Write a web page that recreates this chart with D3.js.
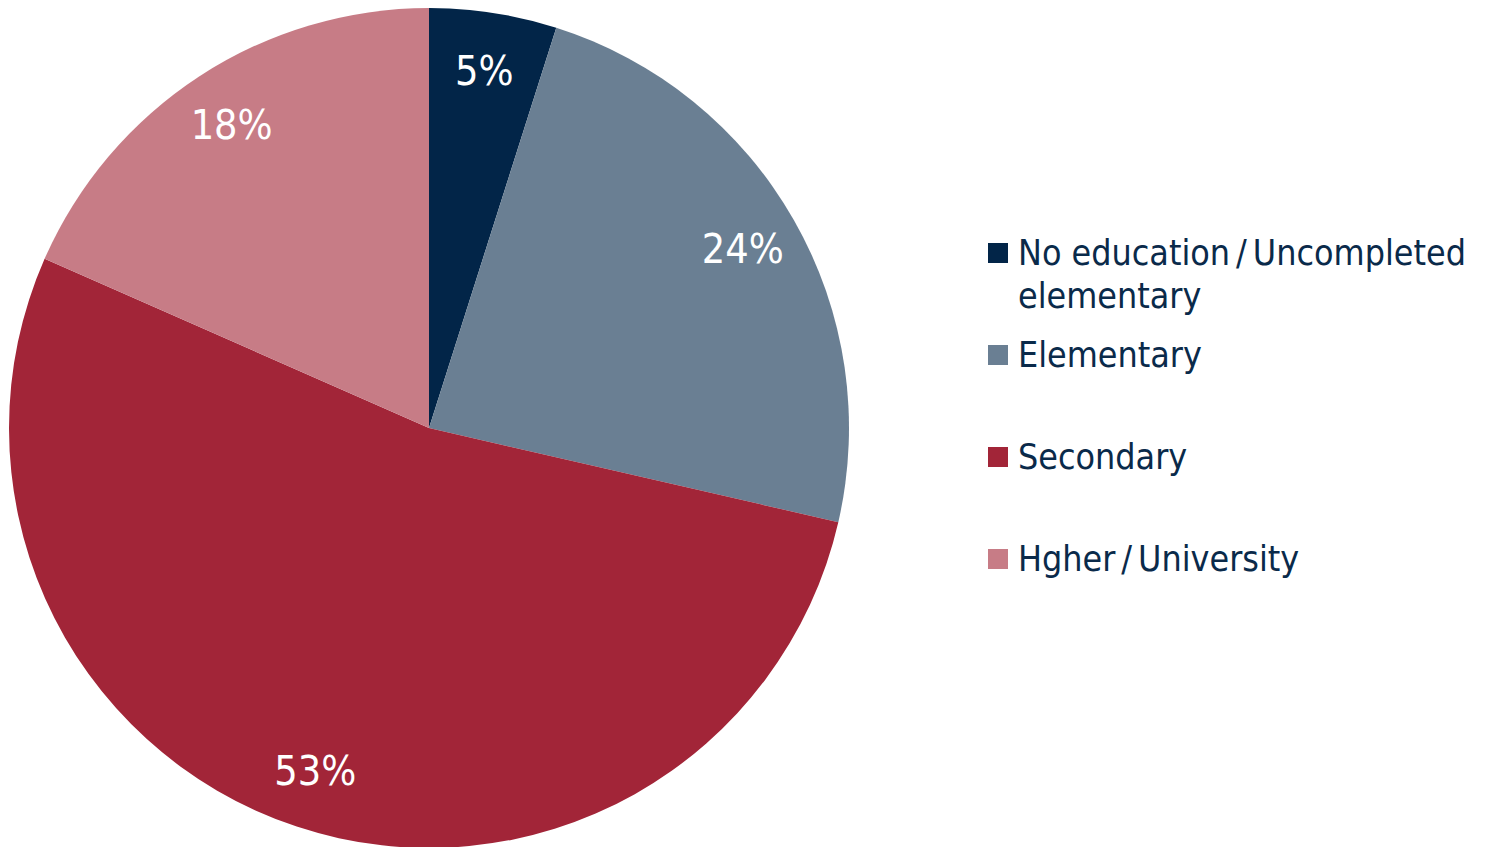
<!DOCTYPE html>
<html><head><meta charset="utf-8">
<script src="https://cdn.jsdelivr.net/npm/d3@7"></script>
<style>body{margin:0;background:#fff}svg{display:block}</style>
</head><body>
<svg id="c" width="1497" height="847"></svg>
<script>
const categories = ["No education/Uncompleted elementary", "Elementary", "Secondary", "Hgher/University"];
const legendLines = [["No education/Uncompleted", "elementary"], ["Elementary"], ["Secondary"], ["Hgher/University"]];
const values = [4.9, 23.7, 53.0, 18.4];
const colors = ["#022548", "#6a7f93", "#a22538", "#c77c86"];

const svg = d3.select("#c");
const cx = 429, cy = 428, R = 420;
const font = "'DejaVu Sans Condensed', 'DejaVu Sans', sans-serif";
const data = categories.map((c, i) => ({cat: c, value: values[i], color: colors[i]}));
const pie = d3.pie().value(d => d.value).sort(null);
const arcs = pie(data);
const arc = d3.arc().innerRadius(0).outerRadius(R);
const labelArc = d3.arc().innerRadius(R * 0.86).outerRadius(R * 0.86);
const g = svg.append("g").attr("transform", `translate(${cx},${cy})`);
g.selectAll("path").data(arcs).join("path").attr("d", arc).attr("fill", d => d.data.color);
g.selectAll("text").data(arcs).join("text")
  .attr("transform", d => `translate(${labelArc.centroid(d)})`)
  .attr("text-anchor", "middle").attr("dominant-baseline", "central")
  .attr("fill", "#fff").attr("font-family", font).attr("font-size", 41)
  .text(d => Math.round(d.data.value) + "%");

const lx = 988, ly = [252, 354, 456, 558];
const lg = svg.append("g");
data.forEach((d, i) => {
  lg.append("rect").attr("x", lx).attr("y", ly[i] - 9).attr("width", 20).attr("height", 20).attr("fill", d.color);
  legendLines[i].forEach((t, j) => {
    const txt = lg.append("text").attr("x", lx + 30).attr("y", ly[i] + j * 43).attr("dominant-baseline", "central")
      .attr("fill", "#0a2a4a").attr("font-family", font).attr("font-size", 35.5);
    const parts = t.split("/");
    parts.forEach((p, k) => {
      if (k > 0) txt.append("tspan").attr("dx", 6).text("/");
      txt.append("tspan").attr("dx", k > 0 ? 6 : 0).text(p);
    });
  });
});
</script>
</body></html>
